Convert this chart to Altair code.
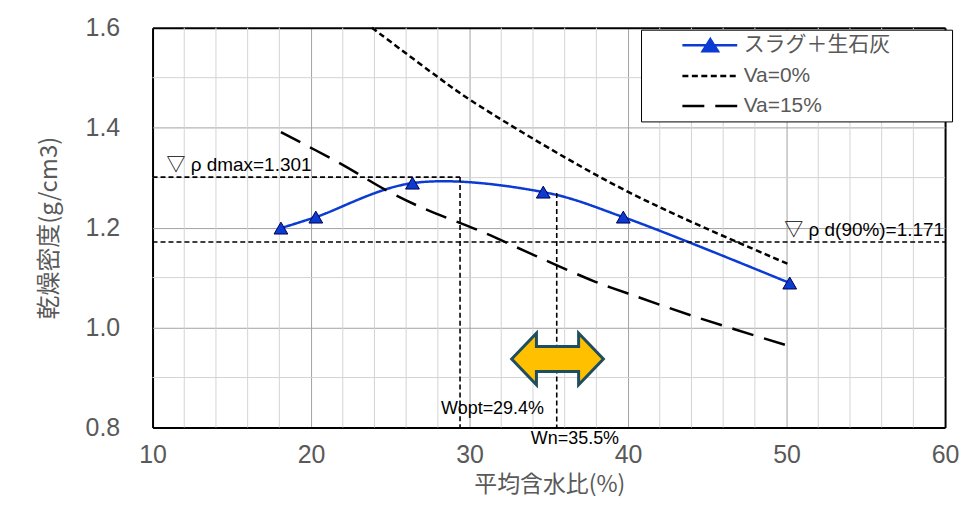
import altair as alt
import pandas as pd

# ---- series names ----
SLAG = "スラグ＋生石灰"
VA0 = "Va=0%"
VA15 = "Va=15%"
SERIES = [SLAG, VA0, VA15]

# ---- measured curve (slag + quicklime) ----
slag_w = [18.1, 20.3, 26.4, 34.65, 39.7, 50.2]
slag_rho = [1.199, 1.221, 1.289, 1.271, 1.221, 1.089]

# ---- zero air void curve (Va = 0 %) ----
va0_w = [23.84, 28.05, 30.06, 36.04, 40.1, 44.1, 50.25]
va0_rho = [1.600, 1.500, 1.455, 1.340, 1.270, 1.210, 1.125]

# ---- Va = 15 % curve ----
va15_w = [18.1, 21.8, 24.9, 27.2, 30.6, 34.2, 37.9, 40.0, 44.0, 50.25]
va15_rho = [1.391, 1.329, 1.272, 1.237, 1.194, 1.143, 1.092, 1.068, 1.024, 0.962]

# ---- axis ticks and grid ----
x_major = [10, 20, 30, 40, 50, 60]
x_minor = [12, 14, 16, 18, 22, 24, 26, 28, 32, 34, 36, 38,
           42, 44, 46, 48, 52, 54, 56, 58]
y_major = [0.8, 1.0, 1.2, 1.4, 1.6]
y_minor = [0.9, 1.1, 1.3, 1.5]
x_domain = [10, 60]
y_domain = [0.8, 1.6]

# ---- reference values ----
rho_dmax = 1.301
w_opt = 29.4
rho_d90 = 1.171
w_n = 35.5
rho_at_wn = 1.269
arrow_w = [35.55]
arrow_rho = [0.937]

label_dmax = "▽ ρ dmax=1.301"
label_d90 = "▽ ρ d(90%)=1.171"
label_wopt = "Wopt=29.4%"
label_wn = "Wn=35.5%"

BLUE = "#0B3BD3"
GRAY_TXT = "#595959"
MAJOR_GRID = "#a3a3a3"
MINOR_GRID = "#d4d4d4"
LATIN = "Liberation Sans, Noto Sans CJK JP, DejaVu Sans"
CJK = "Noto Sans CJK JP"

# ---- tables ----
curves = pd.concat([
    pd.DataFrame({"w": slag_w, "rho": slag_rho, "series": SLAG}),
    pd.DataFrame({"w": va0_w, "rho": va0_rho, "series": VA0}),
    pd.DataFrame({"w": va15_w, "rho": va15_rho, "series": VA15}),
], ignore_index=True)
slag_df = pd.DataFrame({"w": slag_w, "rho": slag_rho})

rules_df = pd.DataFrame({
    "w": [x_domain[0], w_opt, x_domain[0], w_n],
    "w2": [w_opt, w_opt, x_domain[1], w_n],
    "rho": [rho_dmax, rho_dmax, rho_d90, rho_at_wn],
    "rho2": [rho_dmax, y_domain[0], rho_d90, y_domain[0]],
})

edge_x = "datum.value === 10 || datum.value === 60"
edge_y = "abs(datum.value - 0.8) < 1e-6 || abs(datum.value - 1.6) < 1e-6"

x_axis = alt.Axis(
    values=x_major, format="d",
    ticks=False, domain=False, labelFlush=False,
    labelPadding=15, labelFontSize=25, labelColor=GRAY_TXT, labelFont=LATIN,
    titleFontSize=23, titleColor=GRAY_TXT, titleFont=CJK, titleFontWeight="normal",
    titleX=398, titleY=57, titleBaseline="middle", titleAlign="center",
    gridOpacity=1,
    gridColor={"condition": {"test": edge_x, "value": "#000000"}, "value": MAJOR_GRID},
    gridWidth={"condition": {"test": edge_x, "value": 2}, "value": 1},
)
y_axis = alt.Axis(
    values=y_major, format=".1f",
    ticks=False, domain=False, labelFlush=False,
    labelPadding=33, labelFontSize=25, labelColor=GRAY_TXT, labelFont=LATIN,
    titleFontSize=24, titleColor=GRAY_TXT, titleFont=CJK, titleFontWeight="normal",
    titleX=-103, titleY=200.5, titleBaseline="middle", titleAlign="center",
    gridOpacity=1,
    gridColor={"condition": {"test": edge_y, "value": "#000000"}, "value": MAJOR_GRID},
    gridWidth={"condition": {"test": edge_y, "value": 2}, "value": 1},
)

xs = alt.Scale(domain=x_domain, nice=False, zero=False)
ys = alt.Scale(domain=y_domain, nice=False, zero=False)
X = alt.X("w:Q", scale=xs, axis=x_axis, title="平均含水比(%)")
Y = alt.Y("rho:Q", scale=ys, axis=y_axis, title="乾燥密度(g/cm3)")

# legend symbols: a line (with a triangle for the measured series); the trailing
# move-to widens the legend box to the reference width without drawing anything
PATH_SLAG = "M 3.25 0 L 10.125 0 M 5.8 0.75 L 6.75 -0.75 L 7.7 0.75 Z M 35.7 0"
PATH_LINE = "M 3.25 0 L 10.125 0 M 35.7 0"

stroke_scale = alt.Scale(domain=SERIES, range=[BLUE, "#000000", "#000000"])
fill_scale = alt.Scale(domain=SERIES, range=[BLUE, "transparent", "transparent"])
dash_scale = alt.Scale(domain=SERIES, range=[[1, 0], [6, 3.5], [22, 11]])
shape_scale = alt.Scale(domain=SERIES, range=[PATH_SLAG, PATH_LINE, PATH_LINE])

def make_legend():
    return alt.Legend(
        title=None, orient="none", legendX=490, legendY=2, direction="vertical",
        padding=5, strokeColor="black", fillColor="white",
        symbolSize=256, symbolStrokeWidth=2.5, symbolOpacity=1,
        labelFontSize=21, labelColor=GRAY_TXT, labelFont=LATIN,
        labelOffset=77, rowPadding=8,
    )

# invisible layer that only feeds the legend (fill, stroke, shape and dash)
legend_feed = alt.Chart(curves).mark_point(filled=True, opacity=0, strokeWidth=2.5).encode(
    x=X, y=Y,
    fill=alt.Fill("series:N", scale=fill_scale, legend=make_legend()),
    stroke=alt.Stroke("series:N", scale=stroke_scale, legend=make_legend()),
    shape=alt.Shape("series:N", scale=shape_scale, legend=make_legend()),
    strokeDash=alt.StrokeDash("series:N", scale=dash_scale, legend=make_legend()),
)

minor_x = alt.Chart(pd.DataFrame({"w": x_minor})).mark_rule(
    color=MINOR_GRID, strokeWidth=1).encode(x="w:Q")
minor_y = alt.Chart(pd.DataFrame({"rho": y_minor})).mark_rule(
    color=MINOR_GRID, strokeWidth=1).encode(y="rho:Q")

lines = alt.Chart(curves).mark_line(interpolate="catmull-rom", strokeWidth=2.5).encode(
    x="w:Q", y="rho:Q",
    stroke=alt.Stroke("series:N", scale=stroke_scale, legend=make_legend()),
    strokeDash=alt.StrokeDash("series:N", scale=dash_scale, legend=make_legend()),
    order="w:Q",
)

points = alt.Chart(slag_df).mark_point(
    shape="triangle-up", filled=True, fill=BLUE, stroke="#000050", strokeWidth=1,
    size=190, opacity=1
).encode(x="w:Q", y="rho:Q")

rules = alt.Chart(rules_df).mark_rule(strokeDash=[5, 3], strokeWidth=1.6, color="black").encode(
    x="w:Q", x2="w2:Q", y="rho:Q", y2="rho2:Q"
)

def text_layer(w, rho, label, **kw):
    df = pd.DataFrame({"w": [w], "rho": [rho], "label": [label]})
    return alt.Chart(df).mark_text(font=LATIN, color="black", **kw).encode(
        x="w:Q", y="rho:Q", text="label:N")

t_dmax = text_layer(x_domain[0], rho_dmax, label_dmax, align="left", baseline="alphabetic",
                    dx=14, dy=-6, fontSize=19)
t_d90 = text_layer(x_domain[1], rho_d90, label_d90, align="right", baseline="alphabetic",
                   dx=-1, dy=-6, fontSize=19)
t_wopt = text_layer(w_opt, y_domain[0], label_wopt, align="left", baseline="alphabetic",
                    dx=-19, dy=-13, fontSize=18)
t_wn = text_layer(w_n, y_domain[0], label_wn, align="left", baseline="alphabetic",
                  dx=-26, dy=17, fontSize=18)

ARROW = ("M -1 0 L -0.46 -0.56 L -0.46 -0.27 L 0.46 -0.27 L 0.46 -0.56 L 1 0 "
         "L 0.46 0.56 L 0.46 0.27 L -0.46 0.27 L -0.46 0.56 Z")
arrow = alt.Chart(pd.DataFrame({"w": arrow_w, "rho": arrow_rho})).mark_point(
    shape=ARROW, size=8464, filled=True, fill="#FFC000", stroke="#1F4E5F",
    strokeWidth=3, opacity=1, strokeJoin="miter"
).encode(x="w:Q", y="rho:Q")

chart = alt.layer(legend_feed, minor_x, minor_y, lines, rules, points,
                  t_dmax, t_d90, t_wopt, t_wn, arrow).properties(
    width=795, height=401,
    padding={"left": 145, "top": 19, "right": 22, "bottom": 71},
    autosize=alt.AutoSizeParams(type="none"),
    background="white",
).configure_view(stroke="transparent")

chart.save("out.html", embed_options={"renderer": "svg", "actions": False})
